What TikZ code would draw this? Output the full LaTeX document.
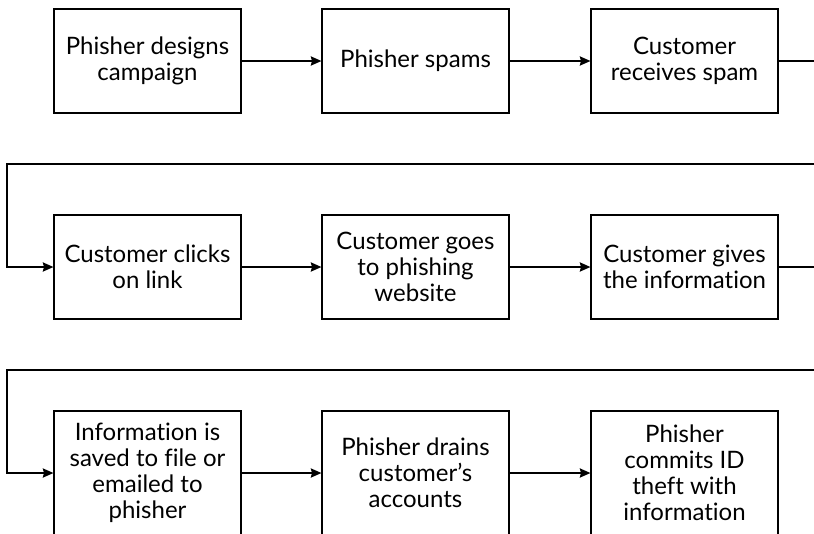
\documentclass[tikz,border=0pt]{standalone}
\usepackage{fontspec}
\setmainfont{Lato}[Ligatures=NoCommon]
\usetikzlibrary{arrows.meta}
\begin{document}
\begin{tikzpicture}[x=0.75pt,y=-0.75pt,
  stepbox/.style={draw, line width=0.9pt, rectangle, minimum width=140.25pt,
    minimum height=78pt, align=center, inner sep=0pt,
    font=\fontsize{18}{19.5}\selectfont},
  tallbox/.style={stepbox, minimum height=93pt},
  link/.style={line width=0.9pt},
  flow/.style={link, -{Stealth[length=8pt,width=7pt,inset=1pt]}}]
\useasboundingbox (0,0) rectangle (814,533);
\begin{scope}
\clip (0,0) rectangle (814,533);
% first row
\node[stepbox] (b1) at (147.5,61) {Phisher designs\\campaign};
\node[stepbox] (b2) at (415.5,61) {Phisher spams};
\node[stepbox] (b3) at (684.5,61) {Customer\\receives spam};
% second row
\node[stepbox] (b4) at (147.5,267) {Customer clicks\\on link};
\node[stepbox] (b5) at (415.5,267) {Customer goes\\to phishing\\website};
\node[stepbox] (b6) at (684.5,267) {Customer gives\\the information};
% third row
\node[tallbox] (b7) at (147.5,473) {Information is\\saved to file or\\emailed to\\phisher};
\node[tallbox] (b8) at (415.5,473) {Phisher drains\\customer’s\\accounts};
\node[tallbox] (b9) at (684.5,473) {Phisher\\commits ID\\theft with\\information};
% wrap-around points at the page edges
\coordinate (r1) at (814,61);
\coordinate (r2) at (814,164);
\coordinate (l2) at (7,164);
\coordinate (r3) at (814,267);
\coordinate (r4) at (814,370);
\coordinate (l4) at (7,370);
% connectors
\draw[flow] (b1) -- (b2);
\draw[flow] (b2) -- (b3);
\draw[link] (b3.east) -- (r1);
\draw[flow] (r2) -- (l2) |- (b4.west);
\draw[flow] (b4) -- (b5);
\draw[flow] (b5) -- (b6);
\draw[link] (b6.east) -- (r3);
\draw[flow] (r4) -- (l4) |- (b7.west);
\draw[flow] (b7) -- (b8);
\draw[flow] (b8) -- (b9);
\end{scope}
\end{tikzpicture}
\end{document}
